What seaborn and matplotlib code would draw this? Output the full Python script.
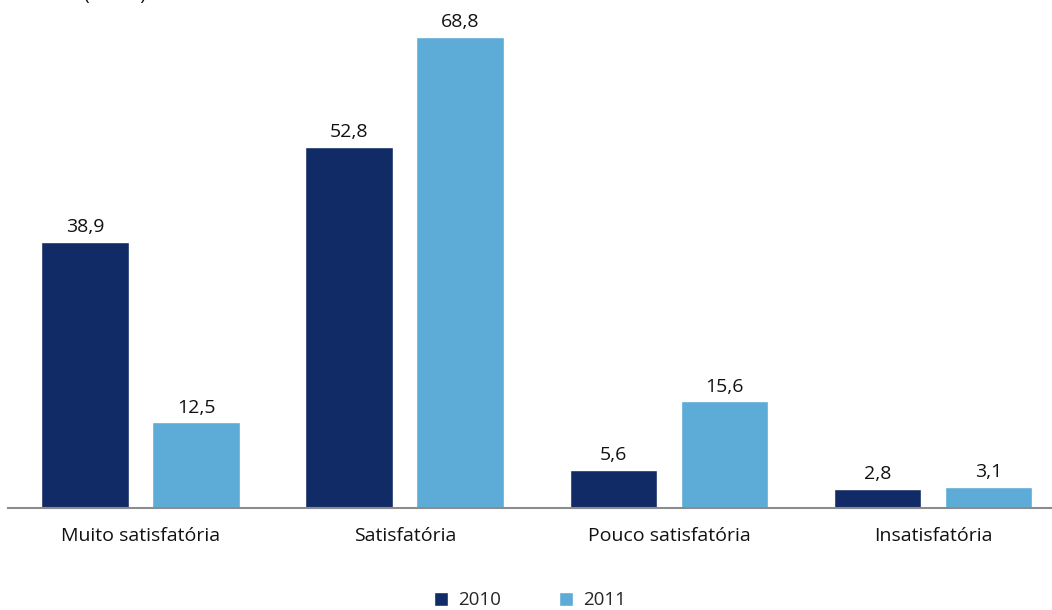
import matplotlib
matplotlib.use("Agg")
import matplotlib.pyplot as plt
import seaborn as sns
import pandas as pd

# Dados
categorias = ["Muito satisfatória", "Satisfatória", "Pouco satisfatória", "Insatisfatória"]
valores_2010 = [38.9, 52.8, 5.6, 2.8]
valores_2011 = [12.5, 68.8, 15.6, 3.1]
anos = ["2010", "2011"]
cores = ["#112B66", "#5DABD7"]

df = pd.DataFrame({
    "categoria": categorias * 2,
    "valor": valores_2010 + valores_2011,
    "ano": [anos[0]] * 4 + [anos[1]] * 4,
})

sns.set_theme(style="white")
plt.rcParams["font.family"] = ["Open Sans", "DejaVu Sans"]

fig = plt.figure(figsize=(10.52, 6.10), dpi=100)
ax = fig.add_axes([8 / 1052, 102 / 610, 1 - 8 / 1052, 508 / 610])

sns.barplot(data=df, x="categoria", y="valor", hue="ano", palette=cores,
            width=0.84, gap=0.21, saturation=1, ax=ax, legend=True)

for cont in ax.containers:
    labels = [f"{v:.1f}".replace(".", ",") for v in cont.datavalues]
    ax.bar_label(cont, labels=labels, padding=4, fontsize=14, color="#111111")

ax.set_xlim(-0.502, 3.45)
ax.set_ylim(0, 74.2)
ax.set_xlabel("")
ax.set_ylabel("")
ax.set_yticks([])
ax.tick_params(axis="x", length=0, labelsize=14, pad=14, colors="#111111")
for side in ["top", "right", "left"]:
    ax.spines[side].set_visible(False)
ax.spines["bottom"].set_color("#8c8c8c")
ax.spines["bottom"].set_linewidth(1.5)

leg = ax.legend(loc="center", bbox_to_anchor=(0.5, -0.182), ncol=2, frameon=False,
                fontsize=13.5, handlelength=0.75, handleheight=0.75, columnspacing=3.05,
                handletextpad=0.55)

# titulo cortado no topo, como na referencia
fig.text(84 / 1052, 1.008, "(em %)", fontsize=14, va="center", color="#111111")

fig.savefig("out.png", dpi=100)
